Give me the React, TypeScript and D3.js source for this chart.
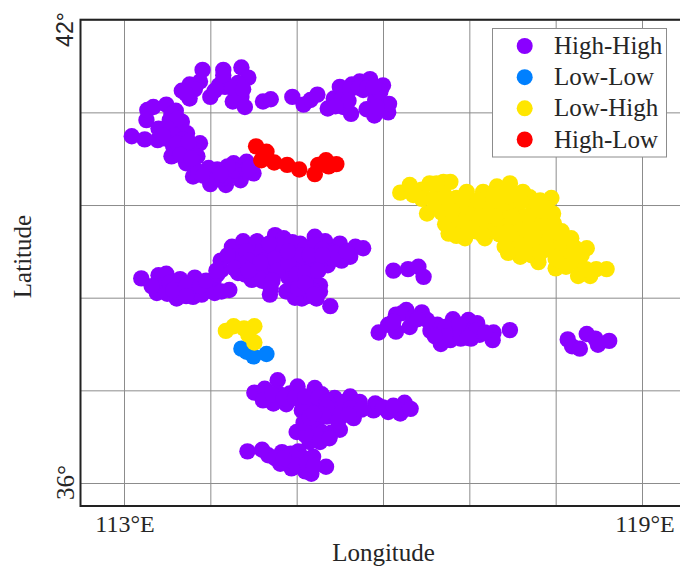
import React, { useEffect, useRef } from 'react';
import * as d3 from 'd3';

type Pt = [number, number];

// grid positions in degrees
const lonTicks = [113, 114, 115, 116, 117, 118, 119];
const latTicks = [36, 37.2, 38.4, 39.6, 40.8, 42];

const categories = ['High-High', 'Low-Low', 'Low-High', 'High-Low'];
const colors = ['#8a00ff', '#0080ff', '#ffe600', '#ff0000'];

// [lon, lat] per cluster
const hhNorth: Pt[] = [
  [113.91, 41.35], [114.15, 41.35], [114.36, 41.38], [114.44, 41.25], [114.15, 41.22], [113.88, 41.2],
  [113.76, 41.16], [113.67, 41.08], [113.76, 40.98], [114.0, 41.0], [114.05, 41.08], [114.17, 41.13],
  [114.32, 41.18], [114.36, 41.0], [114.26, 40.94], [114.4, 40.87], [114.61, 40.94], [114.7, 40.97],
  [114.95, 41.0], [115.08, 40.9], [115.16, 40.96], [115.24, 41.03], [115.36, 40.85], [115.43, 40.98],
  [115.5, 41.13], [115.54, 41.0], [115.64, 41.16], [115.73, 41.2], [115.85, 41.23], [115.63, 40.78],
  [115.54, 40.87], [115.81, 40.84], [115.9, 40.76], [116.06, 40.8], [116.07, 40.91], [115.91, 40.96],
  [116.0, 41.15], [115.97, 41.07], [115.77, 41.09],
  [114.1, 41.15], [114.25, 41.12], [114.15, 41.28], [113.82, 41.1], [113.72, 41.04], [114.38, 41.1],
  [115.62, 41.1], [115.72, 41.12], [115.82, 41.12], [115.6, 40.95], [115.89, 41.13], [115.93, 40.87],
  [115.45, 40.88],
];
const hhWest: Pt[] = [
  [113.09, 40.49], [113.24, 40.45], [113.39, 40.44], [113.26, 40.7], [113.27, 40.83], [113.34, 40.87],
  [113.49, 40.9], [113.6, 40.82], [113.4, 40.59], [113.53, 40.7], [113.67, 40.68], [113.63, 40.57],
  [113.73, 40.53], [113.49, 40.46], [113.88, 40.4], [113.82, 40.31], [113.57, 40.36], [113.55, 40.23],
  [113.72, 40.14], [113.69, 40.31], [113.85, 40.23], [113.8, 39.97], [113.86, 40.03], [113.98, 40.08],
  [114.08, 40.06], [114.0, 39.87], [114.18, 39.86], [114.27, 40.14], [114.42, 40.16], [114.35, 39.92],
  [114.5, 40.01], [114.25, 39.99], [114.36, 40.05], [114.15, 39.95],
  [113.55, 40.78], [113.62, 40.72], [113.5, 40.6], [113.58, 40.5], [113.68, 40.45], [113.45, 40.5],
  [113.62, 40.4], [113.75, 40.42], [113.65, 40.25], [113.78, 40.2], [113.92, 39.98], [114.08, 39.95],
  [114.28, 40.05], [114.2, 40.1], [114.42, 40.05], [114.12, 40.0], [114.45, 40.08],
];
const hhCentral: Pt[] = [
  [113.2, 38.65], [113.4, 38.69], [113.49, 38.71], [113.38, 38.46], [113.44, 38.56], [113.53, 38.59],
  [113.65, 38.64], [113.61, 38.39], [113.65, 38.5], [113.82, 38.66], [113.8, 38.41], [113.9, 38.44],
  [113.78, 38.54], [114.05, 38.46], [114.22, 38.5], [114.04, 38.63], [114.13, 38.76], [114.12, 38.88],
  [114.0, 38.54], [114.25, 39.06], [114.38, 39.13], [114.54, 39.13], [114.75, 39.21], [114.85, 39.17],
  [115.04, 39.1], [115.21, 39.19], [115.33, 39.13], [115.5, 39.1], [115.68, 39.06], [115.77, 39.04],
  [115.62, 38.93], [115.52, 38.88], [115.36, 38.82], [115.15, 38.85], [114.32, 38.72], [114.48, 38.63],
  [114.29, 38.89], [114.69, 38.44], [114.67, 38.61], [114.54, 38.98], [114.73, 39.02], [114.96, 38.93],
  [115.19, 38.98], [115.39, 39.0], [114.34, 38.98], [114.5, 38.8], [114.69, 38.8], [114.88, 38.76],
  [115.04, 38.82], [114.58, 38.72], [114.77, 39.06], [114.9, 38.67], [114.88, 38.48], [115.04, 38.59],
  [115.06, 38.39], [115.19, 38.61], [115.27, 38.56], [115.23, 38.39], [115.27, 38.48], [115.39, 38.29],
  [115.0, 38.48],
  [114.42, 39.0], [114.45, 38.88], [114.6, 39.0], [114.62, 38.88], [114.38, 38.8], [114.82, 39.08],
  [114.95, 39.12], [114.85, 38.92], [114.75, 38.9], [114.78, 38.75], [115.1, 39.05], [115.05, 38.95],
  [115.22, 39.08], [115.3, 39.02], [115.45, 38.98], [115.28, 38.88], [115.15, 38.95], [114.6, 38.62],
  [114.72, 38.62], [114.58, 38.85], [114.7, 38.52],
  [113.32, 38.55], [113.5, 38.45], [113.57, 38.5], [113.72, 38.55], [113.72, 38.42], [113.88, 38.55],
  [113.95, 38.62], [114.08, 38.7], [114.13, 38.48], [114.07, 38.75],
  [114.95, 38.55], [115.12, 38.5], [115.12, 38.42], [114.98, 38.4], [115.18, 38.5],
  [114.2, 38.95], [114.28, 38.78], [114.4, 38.7], [114.44, 38.75], [114.9, 38.85], [115.0, 38.7],
  [115.1, 38.72], [115.25, 38.75], [115.42, 38.9], [115.58, 39.0], [115.3, 38.95], [114.68, 39.1],
  [114.9, 39.0], [115.02, 38.52], [115.1, 38.58], [115.2, 38.44],
];
const hhEast: Pt[] = [
  [116.12, 38.75], [116.29, 38.77], [116.41, 38.8], [116.47, 38.67],
  [115.95, 37.95], [116.06, 38.05], [116.15, 38.18], [116.15, 37.96], [116.27, 38.24], [116.31, 38.02],
  [116.45, 38.21], [116.55, 37.97], [116.63, 38.05], [116.81, 38.12], [116.99, 38.11], [117.09, 38.07],
  [116.67, 37.8], [116.78, 37.85], [117.02, 37.87], [116.85, 37.96], [117.12, 37.92], [117.28, 37.95],
  [117.27, 37.85], [117.47, 37.98], [116.95, 37.98], [116.22, 38.2], [116.12, 38.09], [116.68, 37.96],
  [116.51, 38.11],
  [116.35, 38.14], [116.4, 38.12], [116.72, 38.02], [116.72, 37.9], [116.88, 38.05], [116.9, 37.87],
  [117.08, 37.98], [117.18, 37.95], [116.98, 37.88], [116.6, 37.9],
  [118.14, 37.86], [118.19, 37.77], [118.28, 37.74], [118.36, 37.93], [118.46, 37.87], [118.49, 37.79],
  [118.62, 37.84],
];
const hhSouth: Pt[] = [
  [114.51, 37.17], [114.63, 37.22], [114.78, 37.33], [114.61, 37.07], [114.73, 37.03], [114.88, 37.02],
  [114.92, 37.16], [115.01, 37.25], [114.79, 37.16], [115.21, 37.23], [115.29, 37.15], [115.06, 36.94],
  [115.15, 37.01], [115.25, 36.97], [115.44, 37.1], [115.62, 37.12], [115.73, 37.05], [115.91, 37.03],
  [116.06, 36.92], [116.2, 36.9], [116.25, 37.04], [116.32, 36.96], [115.89, 36.94], [115.66, 36.84],
  [115.5, 36.69], [115.0, 36.66], [115.15, 36.71], [115.35, 36.86], [115.23, 36.75], [115.27, 36.53],
  [115.15, 36.53], [115.52, 36.92], [115.42, 36.92],
  [114.72, 37.15], [114.85, 37.1], [114.98, 37.1], [115.1, 37.12], [115.25, 37.1], [115.35, 37.05],
  [115.45, 36.98], [115.55, 37.05], [115.62, 36.97], [115.75, 36.95], [115.35, 36.98], [115.3, 36.88],
  [115.3, 36.65], [115.22, 36.62], [115.1, 36.62], [115.4, 36.65], [115.48, 36.8], [115.95, 37.0],
  [116.0, 36.98], [116.12, 37.0], [115.6, 36.88],
  [115.08, 36.78], [115.15, 36.85], [115.2, 36.9], [115.38, 36.58],
  [114.43, 36.41], [114.6, 36.43], [114.67, 36.36], [114.83, 36.4], [114.81, 36.25], [114.94, 36.19],
  [115.02, 36.41], [115.08, 36.23], [115.19, 36.34], [115.17, 36.12], [115.34, 36.21], [115.08, 36.32],
  [114.75, 36.32], [114.9, 36.3], [115.0, 36.3], [115.1, 36.15], [114.93, 36.38], [115.05, 36.22],
  [115.0, 36.22], [115.12, 36.25], [115.2, 36.22], [114.85, 36.32],
];
const lowLow: Pt[] = [[114.36, 37.74], [114.5, 37.64], [114.65, 37.67], [114.42, 37.7]];
const lowHigh: Pt[] = [
  [114.18, 37.97], [114.27, 38.03], [114.39, 38.0], [114.51, 38.03], [114.44, 37.92], [114.51, 37.82],
  [116.2, 39.76], [116.31, 39.86], [116.35, 39.73], [116.45, 39.8], [116.54, 39.88], [116.66, 39.8],
  [116.78, 39.9], [116.7, 39.9], [116.51, 39.49], [116.6, 39.58], [116.76, 39.23], [116.8, 39.41],
  [116.85, 39.69], [116.97, 39.77], [117.16, 39.77], [117.32, 39.84], [117.47, 39.88], [117.62, 39.77],
  [117.95, 39.69], [117.9, 39.56], [117.97, 39.49], [116.95, 39.17], [117.18, 39.17], [117.07, 39.26],
  [116.97, 39.51], [117.12, 39.51], [117.28, 39.6], [117.43, 39.56], [117.59, 39.47], [117.74, 39.56],
  [116.89, 39.3], [117.28, 39.34], [117.41, 39.06], [117.59, 38.93], [117.8, 38.86], [118.0, 38.78],
  [117.51, 39.21], [117.7, 39.08], [117.9, 39.26], [118.07, 39.26], [118.18, 39.17], [118.36, 39.04],
  [118.11, 38.95], [118.28, 38.82], [118.26, 38.68], [118.4, 38.68], [118.47, 38.77], [118.59, 38.77],
  [117.97, 39.0], [117.74, 39.34], [117.43, 39.34], [117.12, 39.34],
  [116.45, 39.68], [116.6, 39.7], [116.72, 39.72], [116.88, 39.55], [116.75, 39.62], [116.68, 39.5],
  [116.72, 39.35], [116.88, 39.42], [117.03, 39.62], [117.05, 39.42], [117.2, 39.65], [117.2, 39.45],
  [117.22, 39.26], [116.85, 39.2], [117.35, 39.7], [117.4, 39.45], [117.5, 39.7], [117.55, 39.58],
  [117.35, 39.22], [117.45, 39.12], [117.6, 39.35], [117.62, 39.18], [117.7, 39.7], [117.82, 39.66],
  [117.85, 39.45], [117.68, 39.45], [117.83, 39.32], [117.98, 39.36], [117.55, 39.03], [117.72, 38.95],
  [117.85, 39.12], [117.82, 38.98], [118.0, 39.12], [118.0, 38.9], [118.12, 39.08], [118.22, 39.05],
  [118.18, 38.88], [118.12, 38.8], [118.3, 38.95], [118.35, 38.77], [117.45, 38.98], [117.65, 38.98],
  [117.78, 39.62],
  [116.9, 39.62], [117.1, 39.66], [117.28, 39.72], [117.42, 39.72], [116.8, 39.52], [117.0, 39.3],
  [117.15, 39.22], [117.3, 39.45], [117.5, 39.45], [117.6, 39.65], [117.45, 39.25], [117.75, 39.2],
  [117.9, 39.05], [118.1, 39.18], [117.65, 39.28], [118.0, 39.25], [116.62, 39.88],
];
const highLow: Pt[] = [
  [114.53, 40.36], [114.65, 40.29], [114.59, 40.18], [114.74, 40.15], [114.89, 40.12], [115.03, 40.06],
  [115.21, 40.0], [115.25, 40.12], [115.34, 40.18], [115.37, 40.1], [115.46, 40.13],
];
const highHigh: Pt[] = [...hhNorth, ...hhWest, ...hhCentral, ...hhEast, ...hhSouth];
const seriesValues: Pt[][] = [highHigh, lowLow, lowHigh, highLow];

const App = () => {
  const ref = useRef<SVGSVGElement>(null);

  useEffect(() => {
    document.body.style.margin = '0';
    const svg = d3.select(ref.current).attr('width', 680).attr('height', 566);
    svg.selectAll('*').remove();

    const serif = '"Liberation Serif", serif';
    const ink = '#262626';
    const x = d3.scaleLinear().domain([113, 119]).range([124, 642]);
    const y = d3.scaleLinear().domain([36, 42]).range([483, 19.7]);
    const left = 80.5;
    const right = 684;
    const bottom = 506;
    const top = y(42);

    // grid lines come from the axes, labels are placed by hand below
    const gridX = svg.append('g')
      .attr('transform', `translate(0,${bottom})`)
      .call(d3.axisBottom(x).tickValues(lonTicks).tickSize(-(bottom - top)).tickFormat(() => ''));
    const gridY = svg.append('g')
      .attr('transform', `translate(${left},0)`)
      .call(d3.axisLeft(y).tickValues(latTicks).tickSize(-(right - left)).tickFormat(() => ''));
    [gridX, gridY].forEach((g) => {
      g.select('.domain').remove();
      g.selectAll('line').attr('stroke', '#8c8c8c').attr('stroke-width', 1);
    });

    seriesValues.forEach((pts, i) => {
      svg.append('g')
        .selectAll('circle')
        .data(pts)
        .join('circle')
        .attr('cx', (d) => x(d[0]))
        .attr('cy', (d) => y(d[1]))
        .attr('r', 8.2)
        .attr('fill', colors[i]);
    });

    svg.append('rect')
      .attr('x', left).attr('y', top)
      .attr('width', right - left).attr('height', bottom - top)
      .attr('fill', 'none').attr('stroke', '#222').attr('stroke-width', 2);

    // legend
    const legend = svg.append('g');
    legend.append('rect')
      .attr('x', 492.5).attr('y', 28.5).attr('width', 174).attr('height', 128.5)
      .attr('fill', '#fff').attr('stroke', '#8c8c8c').attr('stroke-width', 1);
    const legendY = d3.scalePoint<string>().domain(categories).range([46, 139.5]);
    categories.forEach((c, i) => {
      legend.append('circle')
        .attr('cx', 524.7).attr('cy', legendY(c) as number).attr('r', 8)
        .attr('fill', colors[i]);
      legend.append('text')
        .attr('x', 554).attr('y', (legendY(c) as number) + 8)
        .attr('font-family', serif).attr('font-size', 25).attr('fill', ink)
        .text(c);
    });

    const label = (s: string, px: number, py: number, size: number, rotate = false, font = serif) => {
      svg.append('text')
        .attr('transform', `translate(${px},${py})${rotate ? ' rotate(-90)' : ''}`)
        .attr('text-anchor', 'middle')
        .attr('font-family', font).attr('font-size', size).attr('fill', ink)
        .text(s);
    };
    label('113°E', x(113) + 1, 532, 24);
    label('119°E', x(119) + 3, 532, 24);
    label('Longitude', 383.5, 560.5, 25);
    label('Latitude', 31, 256.5, 25, true);
    label('36°', 74, y(36) - 0.5, 25, true);
    label('42°', 73, 29.5, 23, true, '"Liberation Sans", sans-serif');
  }, []);

  return <svg ref={ref} style={{ display: 'block' }}></svg>;
};

export default App;
